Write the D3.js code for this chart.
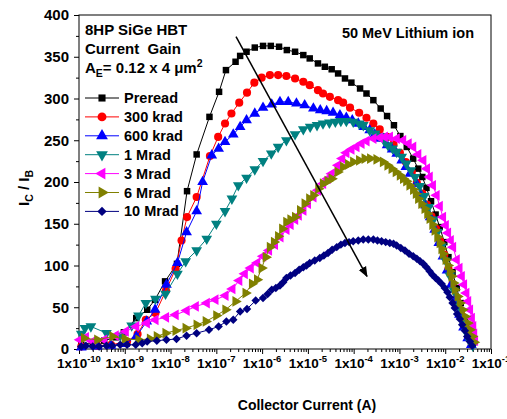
<!DOCTYPE html>
<html>
<head>
<meta charset="utf-8">
<script src="https://cdn.jsdelivr.net/npm/d3@7"></script>
<style>
  body { margin: 0; background: #fff; }
  svg { display: block; }
  text { font-family: "Liberation Sans", Arial, sans-serif; font-weight: bold; fill: #000; }
</style>
</head>
<body>
<svg width="507" height="419"></svg>
<script>
// legend names, one per series
const seriesNames = ["Preread", "300 krad", "600 krad", "1 Mrad", "3 Mrad", "6 Mrad", "10 Mrad"];

// [log10(Ic), Ic/Ib]
const preradData = [[-9.95,5],[-9.7,8],[-9.45,10],[-9.2,14],[-9.02,20],[-8.75,37],[-8.51,47],[-8.34,59],[-8.12,81],[-7.86,102],[-7.64,189],[-7.43,233],[-7.15,278],[-6.94,308],[-6.79,334],[-6.58,344],[-6.48,351],[-6.34,356],[-6.16,361],[-5.98,363],[-5.81,363],[-5.63,362],[-5.46,358],[-5.28,356],[-5.10,352],[-4.96,348],[-4.78,342],[-4.63,338],[-4.48,335],[-4.34,330],[-4.19,324],[-4.05,319],[-3.86,312],[-3.72,306],[-3.57,298],[-3.41,288],[-3.27,279],[-3.12,268],[-2.98,255],[-2.84,242],[-2.70,228],[-2.59,216],[-2.50,206],[-2.41,193],[-2.31,177],[-2.21,161],[-2.12,146],[-2.02,128],[-1.93,110],[-1.84,92],[-1.75,73],[-1.66,55],[-1.57,37],[-1.49,21],[-1.41,7]];
const krad300Data = [[-9.95,3],[-9.6,4],[-9.3,5],[-8.95,9],[-8.72,18],[-8.54,35],[-8.33,43],[-8.1,70],[-7.89,96],[-7.76,130],[-7.64,158],[-7.43,182],[-7.14,231],[-6.96,254],[-6.81,270],[-6.67,282],[-6.50,295],[-6.33,307],[-6.17,319],[-6.01,325],[-5.83,328],[-5.65,328],[-5.47,327],[-5.28,324],[-5.10,320],[-4.96,316],[-4.78,310],[-4.67,306],[-4.52,302],[-4.34,298],[-4.23,295],[-4.08,289],[-3.88,283],[-3.72,277],[-3.57,270],[-3.43,263],[-3.27,254],[-3.13,245],[-2.99,235],[-2.86,224],[-2.73,212],[-2.62,199],[-2.50,186],[-2.40,173],[-2.30,159],[-2.20,144],[-2.11,129],[-2.02,113],[-1.93,96],[-1.84,78],[-1.75,60],[-1.66,43],[-1.57,27],[-1.49,13],[-1.42,5]];
const krad600Data = [[-9.95,2],[-9.6,3],[-9.3,4],[-9.0,6],[-8.75,15],[-8.52,33],[-8.34,47],[-8.09,77],[-7.85,103],[-7.65,140],[-7.43,165],[-7.30,200],[-7.10,232],[-6.95,240],[-6.81,248],[-6.63,257],[-6.48,266],[-6.34,274],[-6.16,282],[-5.98,289],[-5.79,293],[-5.61,296],[-5.43,296],[-5.25,294],[-5.07,292],[-4.88,288],[-4.73,286],[-4.59,285],[-4.45,283],[-4.30,280],[-4.16,277],[-4.03,274],[-3.90,270],[-3.78,266],[-3.65,262],[-3.54,257],[-3.43,252],[-3.27,244],[-3.16,239],[-3.06,234],[-2.95,226],[-2.86,218],[-2.77,210],[-2.63,198],[-2.53,185],[-2.43,172],[-2.33,158],[-2.23,143],[-2.14,127],[-2.05,111],[-1.96,94],[-1.87,77],[-1.78,59],[-1.69,41],[-1.60,26],[-1.51,13],[-1.43,5]];
const mrad1Data = [[-9.95,18],[-9.87,25],[-9.74,27],[-9.40,19],[-9.10,16],[-8.85,28],[-8.70,40],[-8.54,55],[-8.33,60],[-8.11,66],[-7.85,90],[-7.67,105],[-7.43,118],[-7.21,132],[-7.0,150],[-6.81,165],[-6.66,180],[-6.52,196],[-6.34,205],[-6.16,215],[-5.98,225],[-5.80,234],[-5.65,242],[-5.47,250],[-5.28,257],[-5.10,263],[-4.95,266],[-4.80,268],[-4.67,270],[-4.53,271],[-4.40,272],[-4.28,273],[-4.16,273],[-4.01,272],[-3.88,270],[-3.79,268],[-3.65,262],[-3.53,258],[-3.43,255],[-3.33,249],[-3.25,244],[-3.15,240],[-3.06,236],[-2.95,230],[-2.85,222],[-2.75,214],[-2.66,206],[-2.56,195],[-2.46,183],[-2.36,170],[-2.26,155],[-2.17,140],[-2.08,123],[-1.99,106],[-1.90,88],[-1.81,70],[-1.72,52],[-1.63,35],[-1.54,20],[-1.46,9],[-1.40,4]];
const mrad3Data = [[-9.98,11],[-9.85,14],[-9.7,9],[-9.45,11],[-9.2,16],[-8.98,21],[-8.75,27],[-8.52,31],[-8.33,35],[-8.1,38],[-7.89,41],[-7.65,46],[-7.45,51],[-7.21,55],[-7.02,59],[-6.80,64],[-6.65,72],[-6.50,82],[-6.38,90],[-6.25,97],[-6.11,103],[-5.98,111],[-5.85,118],[-5.72,125],[-5.60,134],[-5.47,143],[-5.38,149],[-5.28,155],[-5.20,160],[-5.10,166],[-5.00,174],[-4.88,182],[-4.78,190],[-4.67,198],[-4.57,204],[-4.48,210],[-4.34,220],[-4.25,228],[-4.16,235],[-4.05,239],[-3.94,242],[-3.83,246],[-3.72,249],[-3.57,252],[-3.43,253],[-3.32,254],[-3.21,254],[-3.06,252],[-2.92,250],[-2.80,246],[-2.70,242],[-2.59,233],[-2.48,226],[-2.40,216],[-2.34,206],[-2.27,196],[-2.19,184],[-2.12,171],[-2.05,158],[-1.99,148],[-1.94,139],[-1.88,130],[-1.83,122],[-1.75,107],[-1.69,97],[-1.64,87],[-1.59,77],[-1.54,67],[-1.50,57],[-1.46,47],[-1.42,37],[-1.39,27],[-1.37,18],[-1.35,10]];
const mrad6Data = [[-9.89,13],[-9.6,11],[-9.27,15],[-9.0,12],[-8.7,11],[-8.45,12],[-8.3,15],[-8.11,19],[-7.89,22],[-7.67,25],[-7.43,29],[-7.23,33],[-7.0,40],[-6.80,47],[-6.58,57],[-6.36,67],[-6.22,78],[-6.11,83],[-6.01,97],[-5.92,110],[-5.83,122],[-5.74,128],[-5.65,135],[-5.56,144],[-5.47,152],[-5.38,155],[-5.28,158],[-5.17,166],[-5.07,174],[-4.97,180],[-4.88,184],[-4.77,192],[-4.67,198],[-4.57,201],[-4.48,204],[-4.35,212],[-4.23,218],[-4.12,221],[-4.01,224],[-3.88,226],[-3.76,228],[-3.64,228],[-3.50,227],[-3.36,224],[-3.26,220],[-3.17,216],[-3.08,212],[-2.99,208],[-2.92,204],[-2.85,201],[-2.78,196],[-2.70,191],[-2.64,186],[-2.59,180],[-2.52,174],[-2.45,168],[-2.39,162],[-2.34,156],[-2.28,149],[-2.23,142],[-2.17,134],[-2.12,127],[-2.08,120],[-2.05,114],[-1.99,107],[-1.94,100],[-1.90,93],[-1.86,87],[-1.82,79],[-1.79,71],[-1.73,63],[-1.68,55],[-1.62,47],[-1.57,39],[-1.51,31],[-1.46,23],[-1.41,15],[-1.37,8]];
const mrad10Data = [[-9.95,3],[-9.85,4],[-9.7,3],[-9.56,3],[-9.4,4],[-9.27,4],[-9.1,5],[-8.95,5],[-8.76,5],[-8.62,7],[-8.51,9],[-8.30,10],[-8.09,11],[-7.87,12],[-7.65,16],[-7.43,19],[-7.16,23],[-6.95,27],[-6.78,33],[-6.63,35],[-6.48,45],[-6.33,48],[-6.14,58],[-5.98,61],[-5.88,66],[-5.79,71],[-5.70,73],[-5.61,76],[-5.54,80],[-5.47,85],[-5.38,88],[-5.28,91],[-5.19,95],[-5.10,98],[-5.03,100],[-4.96,103],[-4.85,106],[-4.74,109],[-4.65,112],[-4.56,115],[-4.47,119],[-4.37,122],[-4.28,125],[-4.19,127],[-4.10,128],[-4.01,129],[-3.90,130],[-3.79,131],[-3.68,131],[-3.57,131],[-3.48,130],[-3.39,129],[-3.30,128],[-3.21,127],[-3.13,126],[-3.06,124],[-2.97,121],[-2.88,118],[-2.79,114],[-2.70,111],[-2.62,108],[-2.55,105],[-2.48,102],[-2.41,98],[-2.34,93],[-2.28,89],[-2.21,85],[-2.15,82],[-2.08,78],[-2.01,73],[-1.95,68],[-1.90,62],[-1.84,55],[-1.79,49],[-1.74,42],[-1.68,36],[-1.63,29],[-1.57,22],[-1.52,15],[-1.46,9],[-1.41,4]];

const allSeries = [preradData, krad300Data, krad600Data, mrad1Data, mrad3Data, mrad6Data, mrad10Data];

const xTickExps = [-10, -9, -8, -7, -6, -5, -4, -3, -2, -1];
const yTicks = [0, 50, 100, 150, 200, 250, 300, 350, 400];
// arrow from/to in data units [log10(Ic), gain]
const arrowFrom = [-6.57, 374];
const arrowTo = [-3.71, 87];

const styles = [
  { color: "#000000", sym: d3.symbolSquare, size: 42, rot: 0 },
  { color: "#ff0000", sym: d3.symbolCircle, size: 52, rot: 0 },
  { color: "#0000ff", sym: d3.symbolTriangle, size: 50, rot: 0 },
  { color: "#008080", sym: d3.symbolTriangle, size: 50, rot: 180 },
  { color: "#ff00ff", sym: d3.symbolTriangle, size: 50, rot: -90 },
  { color: "#808000", sym: d3.symbolTriangle, size: 50, rot: 90 },
  { color: "#000080", sym: d3.symbolSquare, size: 36, rot: 45 }
];

const svg = d3.select("svg");
const plotL = 79, plotR = 491, plotT = 15, plotB = 349;

const x = d3.scaleLog().domain([1e-10, 1e-1]).range([plotL, plotR]);
const y = d3.scaleLinear().domain([0, 400]).range([plotB, plotT]);

// y axis, major + minor ticks
const gy = svg.append("g").attr("transform", `translate(${plotL},0)`)
  .call(d3.axisLeft(y).tickValues(yTicks).tickSize(5).tickPadding(5));
gy.select(".domain").remove();
gy.selectAll("text").style("font-size", "15px").style("font-family", "'Liberation Sans', Arial, sans-serif").style("font-weight", "bold");
const gyMinor = svg.append("g").attr("transform", `translate(${plotL},0)`)
  .call(d3.axisLeft(y).tickValues(d3.range(25, 400, 50)).tickSize(3).tickFormat(""));
gyMinor.select(".domain").remove();

// x axis, decades + minor ticks
const minorX = [];
xTickExps.slice(0, -1).forEach(e => { for (let k = 2; k < 10; k++) minorX.push(k * Math.pow(10, e)); });
const gx = svg.append("g").attr("transform", `translate(0,${plotB})`)
  .call(d3.axisBottom(x).tickValues(xTickExps.map(e => Math.pow(10, e))).tickSize(5).tickFormat(""));
gx.select(".domain").remove();
const gxMinor = svg.append("g").attr("transform", `translate(0,${plotB})`)
  .call(d3.axisBottom(x).tickValues(minorX).tickSize(3).tickFormat(""));
gxMinor.select(".domain").remove();

const xl = svg.append("g").selectAll("text").data(xTickExps).join("text")
  .attr("x", e => x(Math.pow(10, e)))
  .attr("y", 368)
  .attr("text-anchor", "middle")
  .style("font-size", "13.5px");
xl.append("tspan").text("1x10");
xl.append("tspan").attr("dy", -6).style("font-size", "9.5px").text(e => "-" + Math.abs(e));

// frame
svg.append("rect").attr("x", plotL).attr("y", plotT)
  .attr("width", plotR - plotL).attr("height", plotB - plotT)
  .attr("fill", "none").attr("stroke", "#000").attr("stroke-width", 1);

// series
const line = d3.line().x(d => x(Math.pow(10, d[0]))).y(d => y(d[1]));
allSeries.forEach((data, i) => {
  const st = styles[i];
  const g = svg.append("g");
  g.append("path").datum(data).attr("d", line)
    .attr("fill", "none").attr("stroke", st.color).attr("stroke-width", 1);
  g.selectAll("path.m").data(data).join("path").attr("class", "m")
    .attr("d", d3.symbol().type(st.sym).size(st.size))
    .attr("transform", d => `translate(${x(Math.pow(10, d[0]))},${y(d[1])}) rotate(${st.rot})`)
    .attr("fill", st.color);
});

// arrow
svg.append("defs").append("marker")
  .attr("id", "ah").attr("viewBox", "0 0 10 10").attr("refX", 9).attr("refY", 5)
  .attr("markerWidth", 7).attr("markerHeight", 7).attr("orient", "auto")
  .append("path").attr("d", "M0,1 L10,5 L0,9 Z").attr("fill", "#000");
svg.append("line")
  .attr("x1", x(Math.pow(10, arrowFrom[0]))).attr("y1", y(arrowFrom[1]))
  .attr("x2", x(Math.pow(10, arrowTo[0]))).attr("y2", y(arrowTo[1]))
  .attr("stroke", "#000").attr("stroke-width", 1.5).attr("marker-end", "url(#ah)");

// text block top-left
svg.append("text").attr("x", 85).attr("y", 35).style("font-size", "15px").text("8HP SiGe HBT");
svg.append("text").attr("x", 85).attr("y", 54).style("font-size", "15px").style("white-space", "pre").text("Current  Gain");
const t3 = svg.append("text").attr("x", 85).attr("y", 73).style("font-size", "15px");
t3.append("tspan").text("A");
t3.append("tspan").attr("dy", 4).style("font-size", "10.5px").text("E");
t3.append("tspan").attr("dy", -4).text("= 0.12 x 4 \u03bcm");
t3.append("tspan").attr("dy", -6).style("font-size", "10.5px").text("2");

svg.append("text").attr("x", 474).attr("y", 38).attr("text-anchor", "end")
  .style("font-size", "14.5px").text("50 MeV Lithium ion");

// legend
const lg = svg.append("g").selectAll("g").data(seriesNames).join("g")
  .attr("transform", (d, i) => `translate(85,${98 + i * 18.9})`);
lg.append("line").attr("x1", 0).attr("x2", 34).attr("y1", 0).attr("y2", 0)
  .attr("stroke", (d, i) => styles[i].color).attr("stroke-width", 1);
lg.append("path")
  .attr("d", (d, i) => d3.symbol().type(styles[i].sym).size(styles[i].size * 1.2)())
  .attr("transform", (d, i) => `translate(17,0) rotate(${styles[i].rot})`)
  .attr("fill", (d, i) => styles[i].color);
lg.append("text").attr("x", 39).attr("y", 5).style("font-size", "14.5px").text(d => d);

// axis titles
svg.append("text").attr("x", 307).attr("y", 410).attr("text-anchor", "middle")
  .style("font-size", "14px").text("Collector Current (A)");
const yt = svg.append("text").attr("transform", "translate(29,188) rotate(-90)")
  .attr("text-anchor", "middle").style("font-size", "15px");
yt.append("tspan").text("I");
yt.append("tspan").attr("dy", 4).style("font-size", "10.5px").text("C");
yt.append("tspan").attr("dy", -4).text(" / I");
yt.append("tspan").attr("dy", 4).style("font-size", "10.5px").text("B");
</script>
</body>
</html>
